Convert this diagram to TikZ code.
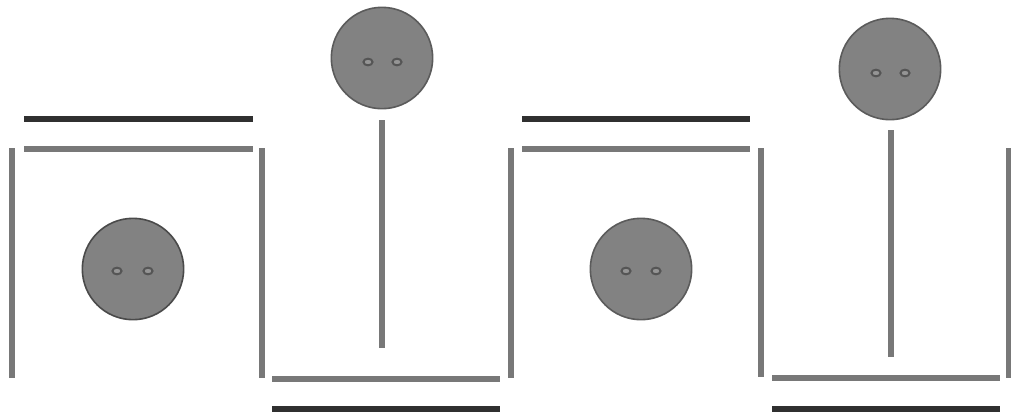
\documentclass[tikz,border=0pt]{standalone}
\usetikzlibrary{shapes.geometric}
\definecolor{darkbar}{HTML}{303030}
\definecolor{graybar}{HTML}{787878}
\definecolor{ballfill}{HTML}{828282}
\definecolor{balledge}{HTML}{4A4A4A}
\definecolor{eyeedge}{HTML}{555555}
\tikzset{
  darkline/.style={draw=darkbar, line width=5pt},
  grayline/.style={draw=graybar, line width=4.8pt},
  wall/.style={draw=graybar, line width=4.6pt},
  ball/.style={circle, fill=ballfill, draw=balledge, line width=1.2pt, minimum size=76pt, inner sep=0pt},
  eye/.style={ellipse, fill=ballfill!85!white, draw=eyeedge, line width=1.5pt, minimum width=6.8pt, minimum height=5pt, inner sep=0pt}
}
\begin{document}
\begin{tikzpicture}[x=0.75pt,y=-0.75pt]
\useasboundingbox (0,0) rectangle (1011,415);
% unit 1
\draw[darkline] (24,119) -- (253,119);
\draw[grayline] (24,149) -- (253,149);
\draw[wall] (12,148) -- (12,378);
\draw[wall] (262,148) -- (262,378);
\draw[wall] (511,148) -- (511,378);
\node[ball] (b1) at (133,269) {};
\node[eye] (e1a) at (117,271) {};
\node[eye] (e1b) at (148,271) {};
\node[ball, draw=balledge!70!ballfill] (t1) at (382,58) {};
\node[eye] (e2a) at (368,62) {};
\node[eye] (e2b) at (397,62) {};
\coordinate (s1) at (382,348);
\draw[wall] (382,120) -- (s1);
\draw[grayline] (272,379) -- (500,379);
\draw[darkline] (272,409) -- (500,409);
% unit 2
\draw[darkline] (522,119) -- (750,119);
\draw[grayline] (522,149) -- (750,149);
\draw[wall] (761,148) -- (761,377);
\draw[wall] (1009,148) -- (1009,378);
\node[ball, draw=balledge!70!ballfill] (b2) at (641,269) {};
\node[eye] (e3a) at (626,271) {};
\node[eye] (e3b) at (656,271) {};
\node[ball, draw=balledge!70!ballfill] (t2) at (890,69) {};
\node[eye] (e4a) at (876,73) {};
\node[eye] (e4b) at (905,73) {};
\coordinate (s2) at (891,357);
\draw[wall] (891,130) -- (s2);
\draw[grayline] (772,378) -- (1000,378);
\draw[darkline] (772,409) -- (1000,409);
\end{tikzpicture}
\end{document}
